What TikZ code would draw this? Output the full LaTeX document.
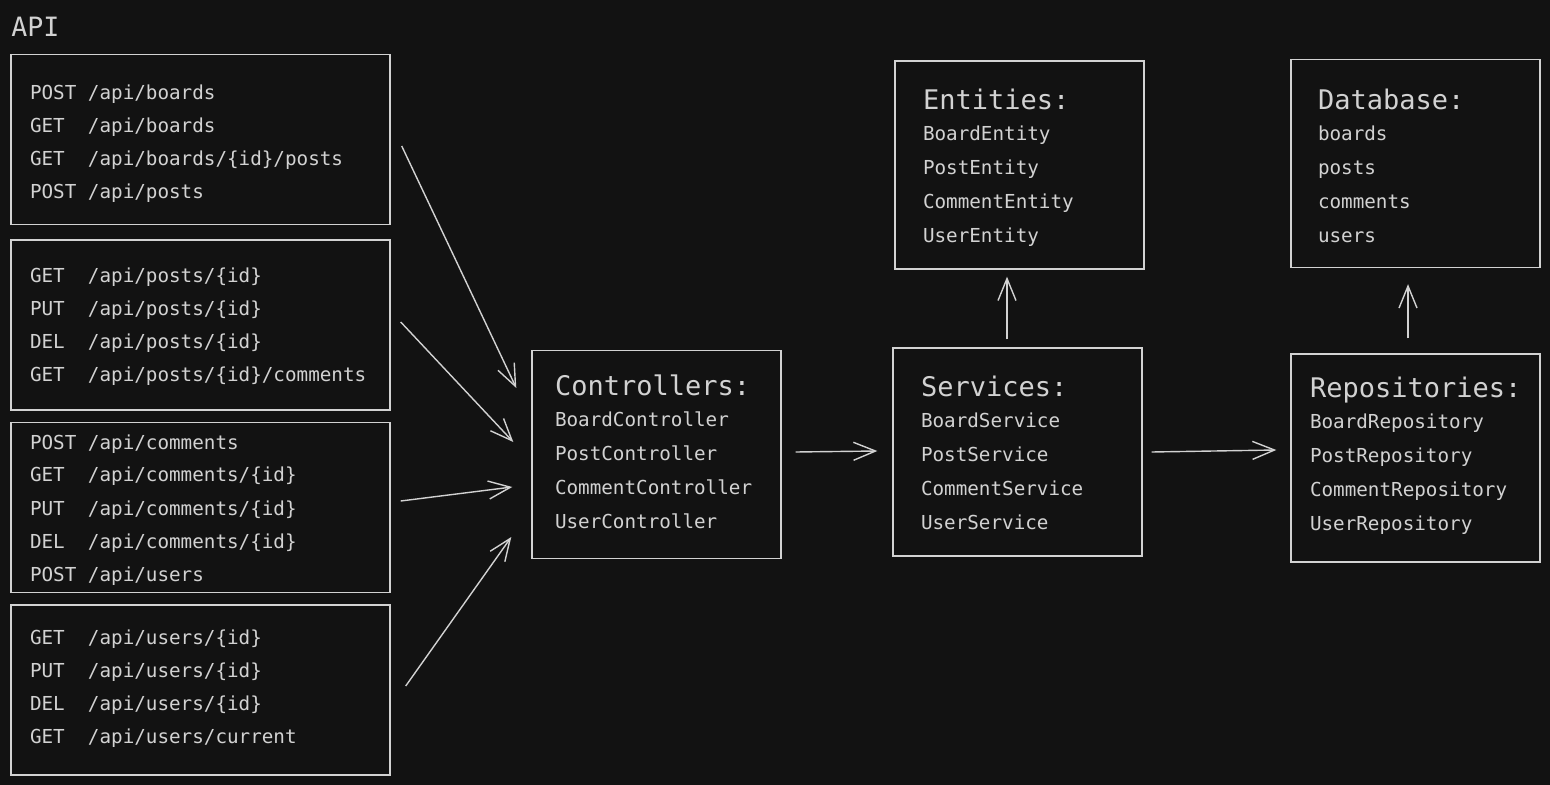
\documentclass[tikz,border=0pt]{standalone}
\usepackage{fontspec}
\setmonofont{DejaVu Sans Mono}
\usetikzlibrary{arrows.meta,calc}
\definecolor{canvas}{HTML}{121212}
\definecolor{ink}{HTML}{D2D2D2}
\tikzstyle{layer} = [rectangle, draw=ink, line width=0.7pt, text=ink, align=left, inner sep=0pt, minimum width=124.5pt, minimum height=104pt, font=\ttfamily\fontsize{9.63}{17}\selectfont]
\tikzstyle{endpoints} = [layer, minimum width=189.5pt, minimum height=85pt, text width=170.5pt, font=\ttfamily\fontsize{9.63}{16.5}\selectfont]
\tikzstyle{flow} = [draw=ink, line width=0.7pt, -{Straight Barb[length=11pt,width=9pt]}]
\tikzset{firstline/.style={text height=0pt, text depth=#1}}
\newcommand{\hdr}[1]{{\fontsize{13.5}{17}\selectfont #1}\\[-1.5pt]}
\newcommand{\gap}{\hphantom{x}}

\begin{document}
\begin{tikzpicture}[x=0.5pt, y=-0.5pt]
  \fill[canvas] (0,0) rectangle (1550,785);

  \node (apititle) [anchor=base west, text=ink, inner sep=0pt, font=\ttfamily\fontsize{13.3}{16}\selectfont] at (11,37) {API};

  \node (api1) [endpoints, firstline=39.5pt] at (200.5,139.5) {
POST\gap/api/boards\\
GET\gap\gap/api/boards\\
GET\gap\gap/api/boards/\{id\}/posts\\
POST\gap/api/posts};
  \node (api2) [endpoints, firstline=42pt] at (200.5,325) {
GET\gap\gap/api/posts/\{id\}\\
PUT\gap\gap/api/posts/\{id\}\\
DEL\gap\gap/api/posts/\{id\}\\
GET\gap\gap/api/posts/\{id\}/comments};
  \node (api3) [endpoints, firstline=58.5pt] at (200.5,507.5) {
POST\gap/api/comments\\
GET\gap\gap/api/comments/\{id\}\\
PUT\gap\gap/api/comments/\{id\}\\
DEL\gap\gap/api/comments/\{id\}\\
POST\gap/api/users};
  \node (api4) [endpoints, firstline=46pt] at (200.5,690) {
GET\gap\gap/api/users/\{id\}\\
PUT\gap\gap/api/users/\{id\}\\
DEL\gap\gap/api/users/\{id\}\\
GET\gap\gap/api/users/current};

  \node (ctrl) [layer, text width=101.5pt, firstline=58.7pt] at (656.5,454.5) {
\hdr{Controllers:}
BoardController\\
PostController\\
CommentController\\
UserController};
  \node (srv) [layer, text width=96.5pt, firstline=55.2pt] at (1017.5,452) {
\hdr{Services:}
BoardService\\
PostService\\
CommentService\\
UserService};
  \node (ent) [layer, text width=96.5pt, firstline=55.2pt] at (1019.5,165) {
\hdr{Entities:}
BoardEntity\\
PostEntity\\
CommentEntity\\
UserEntity};
  \node (repo) [layer, text width=105.5pt, firstline=60.3pt] at (1415.5,458) {
\hdr{Repositories:}
BoardRepository\\
PostRepository\\
CommentRepository\\
UserRepository};
  \node (db) [layer, text width=97.5pt, firstline=53.7pt] at (1415.5,163.5) {
\hdr{Database:}
boards\\
posts\\
comments\\
users};

  \draw[flow] ($(api1.east)+(11,6.5)$) -- ($(ctrl.west)+(-15,-66.5)$);
  \draw[flow] ($(api2.east)+(10,-3)$) -- ($(ctrl.west)+(-18,-12.5)$);
  \draw[flow] ($(api3.east)+(10,-6.5)$) -- ($(ctrl.west)+(-19,32.5)$);
  \draw[flow] ($(api4.east)+(15,-4)$) -- ($(ctrl.west)+(-20,82.5)$);
  \draw[flow] ($(ctrl.east)+(14,-2.5)$) -- ($(srv.west)+(-15,-1)$);
  \draw[flow] ($(srv.east)+(9,0)$) -- ($(repo.west)+(-14,-8)$);
  \draw[flow] ($(srv.north)+(-10.5,-8)$) -- ($(ent.south)+(-12.5,7)$);
  \draw[flow] ($(repo.north)+(-7.5,-15)$) -- ($(db.south)+(-7.5,16)$);
\end{tikzpicture}
\end{document}
